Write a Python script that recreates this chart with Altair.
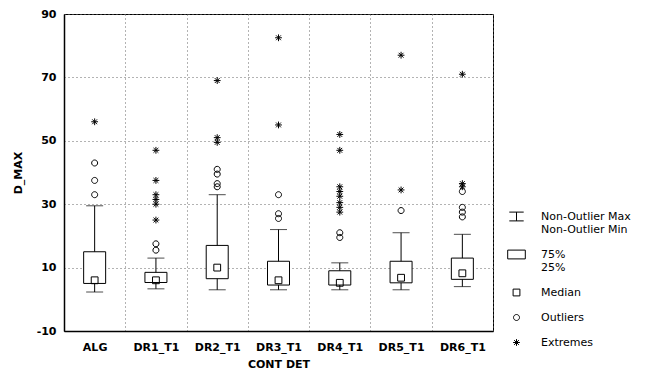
import altair as alt
import pandas as pd

# ---- data ----
categories = ["ALG", "DR1_T1", "DR2_T1", "DR3_T1", "DR4_T1", "DR5_T1", "DR6_T1"]
whisker_low = [2.3, 3.3, 3.0, 3.0, 3.0, 3.0, 4.0]
q1 = [5.0, 5.3, 6.5, 4.5, 4.5, 5.2, 6.3]
median = [6.0, 6.0, 10.0, 6.0, 5.2, 6.8, 8.2]
q3 = [15.0, 8.5, 17.0, 12.0, 9.0, 12.0, 13.0]
whisker_high = [29.5, 13.0, 33.0, 22.0, 11.5, 21.0, 20.5]

outliers_alg = [33.0, 37.5, 43.0]
outliers_dr1 = [15.5, 17.5]
outliers_dr2 = [35.5, 36.5, 39.5, 41.0]
outliers_dr3 = [25.5, 27.0, 33.0]
outliers_dr4 = [19.5, 21.0]
outliers_dr5 = [28.0]
outliers_dr6 = [26.0, 27.5, 29.0, 34.0]

extremes_alg = [56.0]
extremes_dr1 = [25.0, 30.0, 31.5, 33.0, 37.5, 47.0]
extremes_dr2 = [49.5, 51.0, 69.0]
extremes_dr3 = [55.0, 82.5]
extremes_dr4 = [27.5, 29.0, 30.5, 32.5, 34.0, 35.5, 47.0, 52.0]
extremes_dr5 = [34.5, 77.0]
extremes_dr6 = [35.5, 36.5, 71.0]

y_ticks = [-10, 10, 30, 50, 70, 90]

legend_keys = ["Non-Outlier Max|Non-Outlier Min", "75%|25%", "Median", "Outliers", "Extremes"]

# ---- tables ----
outliers = [outliers_alg, outliers_dr1, outliers_dr2, outliers_dr3,
            outliers_dr4, outliers_dr5, outliers_dr6]
extremes = [extremes_alg, extremes_dr1, extremes_dr2, extremes_dr3,
            extremes_dr4, extremes_dr5, extremes_dr6]

df_box = pd.DataFrame({"cat": categories, "lo": whisker_low, "q1": q1,
                       "med": median, "q3": q3, "hi": whisker_high})

rows = []
for c, m, outs, exts in zip(categories, median, outliers, extremes):
    rows.append({"cat": c, "value": m, "kind": "Median"})
    rows += [{"cat": c, "value": v, "kind": "Outliers"} for v in outs]
    rows += [{"cat": c, "value": v, "kind": "Extremes"} for v in exts]
df_pts = pd.DataFrame(rows)

shape_paths = [
    "M-1.8,-1.1H1.8M0,-1.1V1.1M-1.8,1.1H1.8",          # whisker
    "M-2.2,-1.1H2.2V1.1H-2.2Z",                         # box
    "M-0.85,-0.85H0.85V0.85H-0.85Z",                    # median square
    "M0.75,0A0.75,0.75,0,1,1,-0.75,0A0.75,0.75,0,1,1,0.75,0Z",  # circle
    "M-0.85,0H0.85M0,-0.85V0.85M-0.6,-0.6L0.6,0.6M-0.6,0.6L0.6,-0.6",  # asterisk
]

FONT = "DejaVu Sans"
GRID = "#666666"

x_enc = alt.X(
    "cat:N", sort=categories,
    scale=alt.Scale(domain=categories, paddingInner=0, paddingOuter=0),
    axis=alt.Axis(title="CONT DET", tickBand="extent", grid=True, gridDash=[1, 3],
                  gridColor=GRID, gridWidth=1, ticks=False, tickSize=0,
                  labelAngle=0, labelPadding=10, labelFont=FONT, labelFontSize=11,
                  labelFontWeight="bold", labelColor="black",
                  titleFont=FONT, titleFontSize=11, titleFontWeight="bold",
                  titleColor="black", titlePadding=6,
                  domain=True, domainColor="black", domainWidth=1.5),
)
y_scale = alt.Scale(domain=[-10, 90], nice=False, zero=False)
y_axis = alt.Axis(title="D_MAX", values=y_ticks, grid=True, gridDash=[1, 3],
                  gridColor=GRID, gridWidth=1, ticks=False, tickSize=0,
                  labelExpr="'' + datum.value",
                  labelPadding=8, labelFont=FONT, labelFontSize=11,
                  labelFontWeight="bold", labelColor="black",
                  titleFont=FONT, titleFontSize=11, titleFontWeight="bold",
                  titleColor="black", titlePadding=13,
                  domain=True, domainColor="black", domainWidth=1.5)

base = alt.Chart(df_box).encode(x=x_enc)

whisk = base.mark_rule(color="black", strokeWidth=1).encode(
    y=alt.Y("lo:Q", scale=y_scale, axis=y_axis, title="D_MAX"), y2="hi:Q")
box = base.mark_bar(size=22, fill="white", stroke="black", strokeWidth=1).encode(
    y=alt.Y("q3:Q", scale=y_scale, title="D_MAX"), y2="q1:Q")
cap_hi = base.mark_tick(orient="horizontal", size=17, thickness=1, color="black").encode(
    y=alt.Y("hi:Q", scale=y_scale, title="D_MAX"))
cap_lo = base.mark_tick(orient="horizontal", size=17, thickness=1, color="black").encode(
    y=alt.Y("lo:Q", scale=y_scale, title="D_MAX"))

points = alt.Chart(df_pts).mark_point(filled=False, size=64, color="black",
                                      strokeWidth=1, opacity=1).encode(
    x=x_enc,
    y=alt.Y("value:Q", scale=y_scale, title="D_MAX"),
    shape=alt.Shape("kind:N",
                    scale=alt.Scale(domain=legend_keys, range=shape_paths),
                    legend=alt.Legend(title=None, orient="none", legendX=447, legendY=197,
                                      labelExpr="split(datum.label, '|')",
                                      labelFont=FONT, labelFontSize=11,
                                      labelFontWeight="normal", labelColor="black",
                                      labelOffset=19, rowPadding=13,
                                      symbolSize=64, symbolStrokeWidth=1,
                                      symbolStrokeColor="black",
                                      symbolFillColor="white", labelLimit=200)),
)

chart = alt.layer(whisk, box, cap_hi, cap_lo, points).properties(
    width=429, height=317,
    padding={"left": 64, "top": 14, "right": 157, "bottom": 46},
    autosize=alt.AutoSizeParams(type="none"),
    background="white",
).configure_view(stroke="black", strokeWidth=1)

chart.save("out.html", embed_options={"renderer": "svg", "actions": False})
